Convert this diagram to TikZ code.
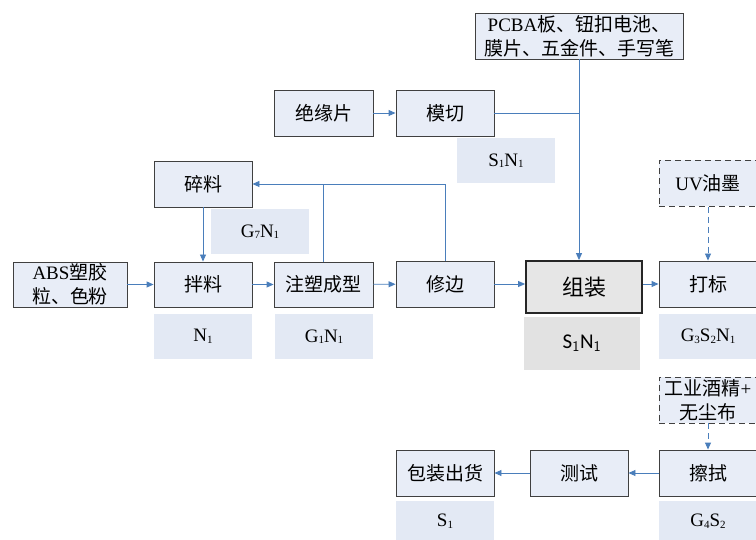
\documentclass[tikz,border=0pt]{standalone}
\usepackage{fontspec}
\setmainfont{Liberation Serif}
\newfontfamily\cjk{Noto Sans CJK SC}
\newfontfamily\calfont{Carlito}
\usetikzlibrary{arrows.meta}
\definecolor{boxfill}{HTML}{E8EDF7}
\definecolor{labfill}{HTML}{E3E9F4}
\definecolor{greyfill}{HTML}{E6E6E6}
\definecolor{greylab}{HTML}{E2E2E2}
\definecolor{linec}{HTML}{4A7EBB}
\definecolor{borderc}{HTML}{404040}
\newcommand\zh[1]{{\cjk #1}}
\newcommand\sbs[1]{\raisebox{-1.5pt}{\fontsize{11}{11}\selectfont #1}}
\begin{document}
\begin{tikzpicture}[x=1pt,y=-1pt,
  every node/.style={inner sep=0pt, align=center, font=\fontsize{19}{24}\selectfont},
  procbox/.style={draw=borderc, line width=0.9pt, fill=boxfill, minimum width=98pt, minimum height=46pt},
  dashbox/.style={procbox, dashed, dash pattern=on 6pt off 4pt},
  labbox/.style={fill=labfill, minimum width=98pt, minimum height=45pt},
  conn/.style={draw=linec, line width=0.9pt},
  arr/.style={conn, -{Triangle[length=7pt,width=6pt]}},
  darr/.style={arr, dash pattern=on 6pt off 4pt}
]
\useasboundingbox (0,0) rectangle (756,540);

% top inputs
\node[procbox, minimum width=208pt] (pcba) at (579,36) {PCBA\zh{板、钮扣电池、}\\\zh{膜片、五金件、手写笔}};
\node[procbox, minimum width=99pt] (jyp) at (323.5,113) {\zh{绝缘片}};
\node[procbox] (mq) at (445,113) {\zh{模切}};
\node[labbox] (lmq) at (506,160.5) {S\sbs{1}N\sbs{1}};

% scrap loop
\node[procbox] (sl) at (203,184) {\zh{碎料}};
\node[labbox] (lg7) at (260,231.5) {G\sbs{7}N\sbs{1}};

% main row
\node[procbox, minimum width=114pt, minimum height=45pt] (abs) at (70,284.5) {ABS\zh{塑胶}\\\zh{粒、色粉}};
\node[procbox, minimum height=45pt] (bl) at (203,284.5) {\zh{拌料}};
\node[procbox, minimum width=99pt, minimum height=45pt] (zs) at (323.5,284.5) {\zh{注塑成型}};
\node[labbox] (ln1) at (203,336.5) {N\sbs{1}};
\node[labbox] (lg1) at (324,336.5) {G\sbs{1}N\sbs{1}};
\node[procbox] (xb) at (445,284) {\zh{修边}};
\node[procbox, fill=greyfill, line width=1.8pt, draw=black!85, minimum width=116pt, minimum height=52pt, font=\fontsize{22}{26}\selectfont] (zz) at (584,287) {\zh{组装}};
\node[fill=greylab, minimum width=116pt, minimum height=53pt, font=\calfont\fontsize{21}{24}\selectfont] (lzz) at (582,343.5) {S$_{\mathsf{1}}$N$_{\mathsf{1}}$};
\node[procbox] (db) at (708,284) {\zh{打标}};
\node[labbox] (lg3) at (708,336.5) {G\sbs{3}S\sbs{2}N\sbs{1}};
\node[dashbox] (uv) at (708,183.5) {UV\zh{油墨}};

% bottom row
\node[dashbox] (gy) at (708,400) {\zh{工业酒精}+\\\zh{无尘布}};
\node[procbox] (cs) at (708,473) {\zh{擦拭}};
\node[procbox] (cst) at (579,473) {\zh{测试}};
\node[procbox] (bz) at (445,473) {\zh{包装出货}};
\node[labbox, minimum height=40pt] (ls1) at (445,521) {S\sbs{1}};
\node[labbox, minimum height=40pt] (lg4) at (708,521) {G\sbs{4}S\sbs{2}};

% connectors
\draw[arr] (jyp) -- (mq);
\draw[conn] (mq.east) -- (mq.east -| pcba.south);
\draw[arr] (pcba.south) -- (pcba.south |- zz.north);
\draw[arr] (abs) -- (bl);
\draw[arr] (bl) -- (zs);
\draw[arr] (zs) -- (xb);
\draw[arr] (xb.east) -- (xb.east -| zz.west);
\draw[arr] (zz.east |- db.west) -- (db.west);
\draw[arr] (sl) -- (bl);
\draw[arr] (xb.north) |- (sl.east);
\draw[conn] (zs.north) -- (zs.north |- sl.east);
\draw[darr] (uv) -- (db);
\draw[darr] (gy) -- (cs);
\draw[arr] (cs) -- (cst);
\draw[arr] (cst) -- (bz);
\end{tikzpicture}
\end{document}
